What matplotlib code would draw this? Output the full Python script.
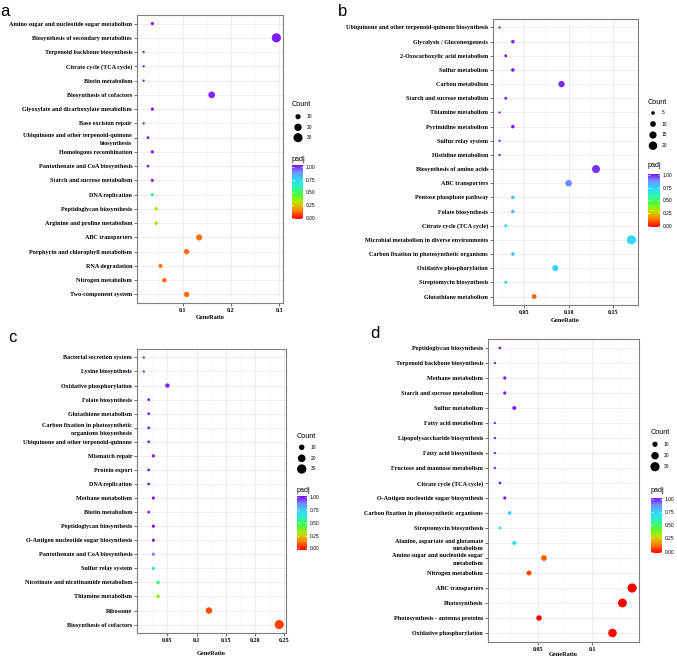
import numpy as np
import matplotlib
matplotlib.use("Agg")
import matplotlib.pyplot as plt
from matplotlib.colors import LinearSegmentedColormap

W, H = 677, 659

# ---- panel a (top to bottom) ----
a_terms = ["Amino sugar and nucleotide sugar metabolism", "Biosynthesis of secondary metabolites",
           "Terpenoid backbone biosynthesis", "Citrate cycle (TCA cycle)", "Biotin metabolism",
           "Biosynthesis of cofactors", "Glyoxylate and dicarboxylate metabolism", "Base excision repair",
           "Ubiquinone and other terpenoid-quinone\nbiosynthesis", "Homologous recombination",
           "Pantothenate and CoA biosynthesis", "Starch and sucrose metabolism", "DNA replication",
           "Peptidoglycan biosynthesis", "Arginine and proline metabolism", "ABC transporters",
           "Porphyrin and chlorophyll metabolism", "RNA degradation", "Nitrogen metabolism",
           "Two-component system"]
a_ratio = [0.037, 0.294, 0.019, 0.019, 0.019, 0.160, 0.037, 0.019, 0.028, 0.037,
           0.028, 0.037, 0.037, 0.045, 0.045, 0.134, 0.108, 0.054, 0.062, 0.108]
a_count = [4, 31, 2, 2, 2, 17, 4, 2, 3, 4, 3, 4, 4, 5, 5, 14, 11, 6, 7, 11]
a_padj = [0.98, 0.97, 0.99, 0.99, 0.99, 0.96, 0.98, 0.99, 0.98, 0.97,
          0.98, 0.97, 0.60, 0.33, 0.33, 0.13, 0.13, 0.13, 0.12, 0.13]

# ---- panel b ----
b_terms = ["Ubiquinone and other terpenoid-quinone biosynthesis", "Glycolysis / Gluconeogenesis",
           "2-Oxocarboxylic acid metabolism", "Sulfur metabolism", "Carbon metabolism",
           "Starch and sucrose metabolism", "Thiamine metabolism", "Pyrimidine metabolism",
           "Sulfur relay system", "Histidine metabolism", "Biosynthesis of amino acids",
           "ABC transporters", "Pentose phosphate pathway", "Folate biosynthesis",
           "Citrate cycle (TCA cycle)", "Microbial metabolism in diverse environments",
           "Carbon fixation in photosynthetic organisms", "Oxidative phosphorylation",
           "Streptomycin biosynthesis", "Glutathione metabolism"]
b_ratio = [0.022, 0.037, 0.029, 0.037, 0.092, 0.029, 0.022, 0.037, 0.022, 0.022,
           0.131, 0.100, 0.037, 0.037, 0.029, 0.171, 0.037, 0.085, 0.029, 0.061]
b_count = [3, 5, 4, 5, 12, 4, 3, 5, 3, 3, 18, 13, 5, 5, 4, 23, 5, 11, 4, 8]
b_padj = [0.99, 0.97, 0.97, 0.97, 0.96, 0.97, 0.99, 0.97, 0.99, 0.99,
          0.95, 0.86, 0.78, 0.77, 0.73, 0.72, 0.76, 0.73, 0.73, 0.12]

# ---- panel c ----
c_terms = ["Bacterial secretion system", "Lysine biosynthesis", "Oxidative phosphorylation",
           "Folate biosynthesis", "Glutathione metabolism",
           "Carbon fixation in photosynthetic\norganisms biosynthesis",
           "Ubiquinone and other terpenoid-quinone", "Mismatch repair", "Protein export",
           "DNA replication", "Methane metabolism", "Biotin metabolism", "Peptidoglycan biosynthesis",
           "O-Antigen nucleotide sugar biosynthesis", "Pantothenate and CoA biosynthesis",
           "Sulfur relay system", "Nicotinate and nicotinamide metabolism", "Thiamine metabolism",
           "Ribosome", "Biosynthesis of cofactors"]
c_ratio = [0.0096, 0.0096, 0.050, 0.018, 0.018, 0.018, 0.018, 0.026, 0.018, 0.018,
           0.026, 0.018, 0.026, 0.026, 0.026, 0.026, 0.034, 0.034, 0.121, 0.241]
c_count = [1, 1, 6, 2, 2, 2, 2, 3, 2, 2, 3, 2, 3, 3, 3, 3, 4, 4, 14, 29]
c_padj = [0.99, 0.99, 0.97, 0.98, 0.98, 0.98, 0.98, 0.97, 0.98, 0.98,
          0.97, 0.98, 0.97, 0.97, 0.86, 0.66, 0.52, 0.36, 0.09, 0.08]

# ---- panel d ----
d_terms = ["Peptidoglycan biosynthesis", "Terpenoid backbone biosynthesis", "Methane metabolism",
           "Starch and sucrose metabolism", "Sulfur metabolism", "Fatty acid metabolism",
           "Lipopolysaccharide biosynthesis", "Fatty acid biosynthesis",
           "Fructose and mannose metabolism", "Citrate cycle (TCA cycle)",
           "O-Antigen nucleotide sugar biosynthesis", "Carbon fixation in photosynthetic organisms",
           "Streptomycin biosynthesis", "Alanine, aspartate and glutamate\nmetabolism",
           "Amino sugar and nucleotide sugar\nmetabolism", "Nitrogen metabolism", "ABC transporters",
           "Photosynthesis", "Photosynthesis - antenna proteins", "Oxidative phosphorylation"]
d_ratio = [0.0144, 0.0098, 0.019, 0.019, 0.0278, 0.0098, 0.0098, 0.0098, 0.0098, 0.0144,
           0.019, 0.0235, 0.0144, 0.0278, 0.0553, 0.0415, 0.137, 0.128, 0.0507, 0.1188]
d_count = [3, 2, 4, 4, 6, 2, 2, 2, 2, 3, 4, 5, 3, 6, 12, 9, 30, 28, 11, 26]
d_padj = [0.98, 0.99, 0.98, 0.98, 0.97, 0.99, 0.99, 0.99, 0.99, 0.98,
          0.97, 0.73, 0.73, 0.71, 0.11, 0.08, 0.0, 0.0, 0.01, 0.0]

# rainbow-like gradient, red (0) -> purple (1)
cmap = LinearSegmentedColormap.from_list("rb", [
    (0.00, "#ff0000"), (0.15, "#ff8000"), (0.30, "#c4e400"), (0.45, "#44ff44"),
    (0.60, "#30f0c0"), (0.72, "#30d8ff"), (0.86, "#7090ff"), (1.00, "#8000ff")])

SERIF = "Liberation Serif"
SANS = "Liberation Sans"
GRID = "#ebebeb"


def rect(left, top, right, bottom):
    return [left / W, 1 - bottom / H, (right - left) / W, (bottom - top) / H]


def dsize(c, cmin, cmax, r1=1.6, r2=6.6):
    c = np.asarray(c, float)
    d = np.sqrt(r1 ** 2 + (r2 ** 2 - r1 ** 2) * (c - cmin) / (cmax - cmin))
    return d ** 2


def panel(box, terms, ratio, count, padj, xt, xtl, minor, letter, lpos, leg, legvals, lpad):
    ax = fig.add_axes(rect(*box))
    n = len(terms)
    y = np.arange(n, 0, -1)
    cmin, cmax = min(count), max(count)
    ax.scatter(ratio, y, s=dsize(count, cmin, cmax), c=padj, cmap=cmap, vmin=0, vmax=1,
               linewidths=0, zorder=3)
    lo, hi = min(ratio), max(ratio)
    ax.set_xlim(lo - 0.05 * (hi - lo), hi + 0.05 * (hi - lo))
    ax.set_ylim(0.4, n + 0.6)
    ax.set_xticks(xt, xtl, fontfamily=SERIF, fontweight="bold", fontsize=4.3)
    ax.set_xticks(minor, minor=True)
    ax.set_yticks(y, terms, fontfamily=SERIF, fontweight="bold", fontsize=4.4,
                  multialignment="right")
    for lbl in ax.get_yticklabels():
        lbl.set_linespacing(1.6)
    ax.tick_params(axis="both", which="major", length=2, width=0.5, color="#333333", pad=1.5)
    ax.tick_params(axis="x", which="minor", length=0)
    ax.grid(True, which="major", color=GRID, lw=0.6, zorder=0)
    ax.grid(True, which="minor", axis="x", color=GRID, lw=0.35, zorder=0)
    ax.set_axisbelow(True)
    for sp in ax.spines.values():
        sp.set_color("#7f7f7f")
        sp.set_linewidth(0.8)
    ax.set_xlabel("GeneRatio", fontfamily=SERIF, fontweight="bold", fontsize=4.6, labelpad=lpad)
    fig.text(lpos[0] / W, 1 - lpos[1] / H, letter, fontfamily=SANS, fontsize=12,
             ha="center", va="center")

    # size legend
    tx, ty, dx, rows, ptitle, cb = leg
    fig.text(tx / W, 1 - ty / H, "Count", fontfamily=SANS, fontsize=5.2, va="center")
    lax = fig.add_axes([0, 0, 1, 1], facecolor="none")
    lax.set_xlim(0, W)
    lax.set_ylim(H, 0)
    lax.axis("off")
    lax.scatter([dx] * len(legvals), rows, s=dsize(legvals, cmin, cmax), color="black",
                linewidths=0)
    for v, r in zip(legvals, rows):
        lax.text(dx + 9, r, str(v), fontfamily=SANS, fontsize=3.5, va="center")
    fig.text(tx / W, 1 - ptitle / H, "padj", fontfamily=SANS, fontsize=5.2, va="center")

    # colorbar
    cx0, cx1, ctop, cbot = cb
    cax = fig.add_axes(rect(cx0, ctop - 1.5, cx1, cbot + 1.5))
    grad = np.linspace(1, 0, 200).reshape(-1, 1)
    cax.imshow(grad, aspect="auto", cmap=cmap, vmin=0, vmax=1,
               extent=[0, 1, -0.03, 1.03])
    cax.set_xlim(0, 1)
    cax.set_ylim(-0.03, 1.03)
    cax.set_xticks([])
    cax.yaxis.tick_right()
    cax.set_yticks([0, 0.25, 0.5, 0.75, 1.0], ["0.00", "0.25", "0.50", "0.75", "1.00"],
                   fontfamily=SANS, fontsize=3.5)
    cax.tick_params(axis="y", length=0, pad=2)
    for t in [0, 0.25, 0.5, 0.75, 1.0]:
        cax.plot([0, 0.2], [t, t], color="white", lw=0.4)
        cax.plot([0.8, 1], [t, t], color="white", lw=0.4)
    for sp in cax.spines.values():
        sp.set_visible(False)
    return ax


fig = plt.figure(figsize=(W / 100, H / 100), dpi=100)

panel((137, 15, 283, 303), a_terms, a_ratio, a_count, a_padj,
      [0.1, 0.2, 0.3], ["0.1", "0.2", "0.3"], [0.05, 0.15, 0.25], "a", (5, 12),
      (292, 105, 298, [116.7, 127.3, 137.7], 160, (292, 303, 167, 218)), [10, 20, 30], 1.5)

panel((493, 19, 638, 305), b_terms, b_ratio, b_count, b_padj,
      [0.05, 0.10, 0.15], ["0.05", "0.10", "0.15"], [0.025, 0.075, 0.125], "b", (343, 12),
      (648, 102, 653, [113, 124, 135, 145.7], 166, (648, 660, 175, 225.7)), [5, 10, 15, 20], 2.5)

panel((137, 349, 286, 633), c_terms, c_ratio, c_count, c_padj,
      [0.05, 0.1, 0.15, 0.20, 0.25], ["0.05", "0.1", "0.15", "0.20", "0.25"],
      [0.025, 0.075, 0.125, 0.175, 0.225], "c", (12, 338),
      (296.7, 436, 301.7, [447.3, 458.3, 469], 491, (297, 307, 497.3, 548.3)), [10, 20, 30], 6)

panel((488, 339, 639, 642), d_terms, d_ratio, d_count, d_padj,
      [0.05, 0.1], ["0.05", "0.1"], [0.025, 0.075, 0.125], "d", (375, 333),
      (650.7, 432, 655, [444.3, 455.7, 466.7], 491, (651, 662, 499, 551.7)), [10, 20, 30], 0.3)

fig.savefig("out.png", dpi=100)
